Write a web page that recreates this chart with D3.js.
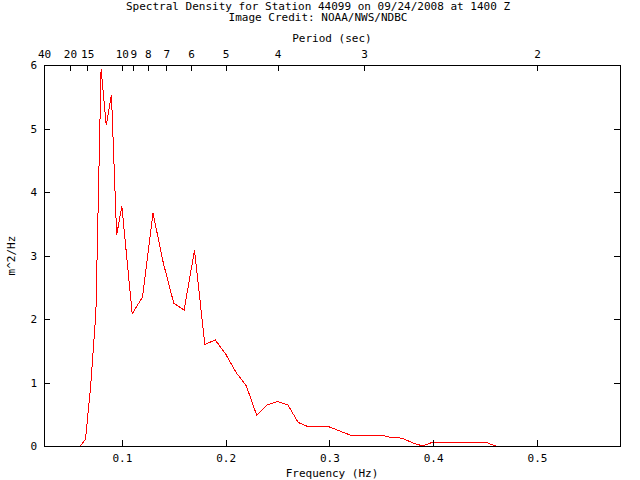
<!DOCTYPE html>
<html>
<head>
<meta charset="utf-8">
<script src="https://cdn.jsdelivr.net/npm/d3@7"></script>
<style>
  html, body { margin: 0; padding: 0; background: #fff; }
  svg { display: block; }
  text { font-family: "DejaVu Sans Mono", "Liberation Mono", monospace; font-size: 11px; fill: #000; }
</style>
</head>
<body>
<script>
// Data (CDIP 64-band frequencies, Hz) and spectral density (m^2/Hz)
const frequencies = [0.025,0.03,0.035,0.04,0.045,0.05,0.055,0.06,0.065,0.07,0.075,0.08,0.085,0.09,0.095,0.10,
  0.11,0.12,0.13,0.14,0.15,0.16,0.17,0.18,0.19,0.20,0.21,0.22,0.23,0.24,0.25,0.26,0.27,0.28,0.29,0.30,
  0.31,0.32,0.33,0.34,0.35,0.36,0.37,0.38,0.39,0.40,0.41,0.42,0.43,0.44,0.45,0.46,0.47,0.48,0.49,0.50,
  0.51,0.52,0.53,0.54,0.55,0.56,0.57,0.58];
const density = [0,0,0,0,0,0,0,0,0.11,0.95,2.1,5.93,5.05,5.53,3.32,3.78,
  2.08,2.35,3.67,2.88,2.25,2.14,3.08,1.6,1.67,1.45,1.16,0.945,0.48,0.645,0.70,0.645,0.37,0.30,0.30,0.30,
  0.236,0.173,0.173,0.173,0.173,0.13,0.125,0.05,0,0.063,0.063,0.063,0.063,0.063,0.063,0,0,0,0,0,
  0,0,0,0,0,0,0,0];
const freqTicks = [0.1,0.2,0.3,0.4,0.5];
const freqTickLabels = ["0.1","0.2","0.3","0.4","0.5"];
const yTicks = [0,1,2,3,4,5,6];
const periodTicks = [40,20,15,10,9,8,7,6,5,4,3,2];
const periodLabels = ["40","20","15","10","9","8","7","6","5","4","3","2"];
const titleLines = ["Spectral Density for Station 44099 on 09/24/2008 at 1400 Z","Image Credit: NOAA/NWS/NDBC"];
const xTitle = "Frequency (Hz)";
const topTitle = "Period (sec)";
const yTitle = "m^2/Hz";

const W = 640, H = 480;
const PL = 44, PR = 620, PT = 65, PB = 446;
const svg = d3.select("body").append("svg").attr("width", W).attr("height", H);

const x = d3.scaleLinear().domain([0.025, 0.58]).range([PL, PR]);
const y = d3.scaleLinear().domain([0, 6]).range([PB, PT]);

// data line
const pts = frequencies.map((f, i) => [f, density[i]]);
svg.append("path")
  .datum(pts)
  .attr("fill", "none")
  .attr("stroke", "#ff0000")
  .attr("stroke-width", 1)
  .attr("shape-rendering", "crispEdges")
  .attr("d", d3.line().x(d => x(d[0])).y(d => y(d[1])));

// axes (ticks inward)
const tk = 6;
const gBottom = svg.append("g").attr("transform", `translate(0,${PB})`)
  .call(d3.axisBottom(x).tickValues(freqTicks).tickSizeInner(-tk).tickSizeOuter(0)
    .tickFormat((d, i) => freqTickLabels[i]));
const gLeft = svg.append("g").attr("transform", `translate(${PL},0)`)
  .call(d3.axisLeft(y).tickValues(yTicks).tickSizeInner(-tk).tickSizeOuter(0).tickFormat(d3.format("d")));
const gRight = svg.append("g").attr("transform", `translate(${PR},0)`)
  .call(d3.axisRight(y).tickValues(yTicks).tickSizeInner(-tk).tickSizeOuter(0).tickFormat(""));
const gTop = svg.append("g").attr("transform", `translate(0,${PT})`)
  .call(d3.axisTop(x).tickValues(periodTicks.map(p => 1 / p)).tickSizeInner(-tk).tickSizeOuter(0)
    .tickFormat((d, i) => periodLabels[i]));

[gBottom, gLeft, gRight, gTop].forEach(g => {
  g.select(".domain").remove();
  g.attr("font-family", null).attr("font-size", null);
  g.selectAll("line").attr("stroke", "#000").attr("shape-rendering", "crispEdges");
  g.selectAll("text").attr("fill", "#000");
});
gBottom.selectAll("text").attr("dy", null).attr("y", 16);
gLeft.selectAll("text").attr("x", -7).attr("dy", "0.35em");
gTop.selectAll("text").attr("y", -7);

// frame
svg.append("rect").attr("x", PL + 0.5).attr("y", PT + 0.5)
  .attr("width", PR - PL).attr("height", PB - PT)
  .attr("fill", "none").attr("stroke", "#000").attr("stroke-width", 1)
  .attr("shape-rendering", "crispEdges");

// titles
svg.selectAll("text.title").data(titleLines).enter().append("text")
  .attr("class", "title").attr("x", 318).attr("y", (d, i) => 9.5 + i * 11.5)
  .attr("font-size", "10.6px")
  .attr("text-anchor", "middle").text(d => d);
svg.append("text").attr("x", (PL + PR) / 2).attr("y", 42).attr("text-anchor", "middle").text(topTitle);
svg.append("text").attr("x", (PL + PR) / 2).attr("y", 477).attr("text-anchor", "middle").text(xTitle);
svg.append("text").attr("transform", `translate(15,${(PT + PB) / 2}) rotate(-90)`)
  .attr("text-anchor", "middle").text(yTitle);
</script>
</body>
</html>
